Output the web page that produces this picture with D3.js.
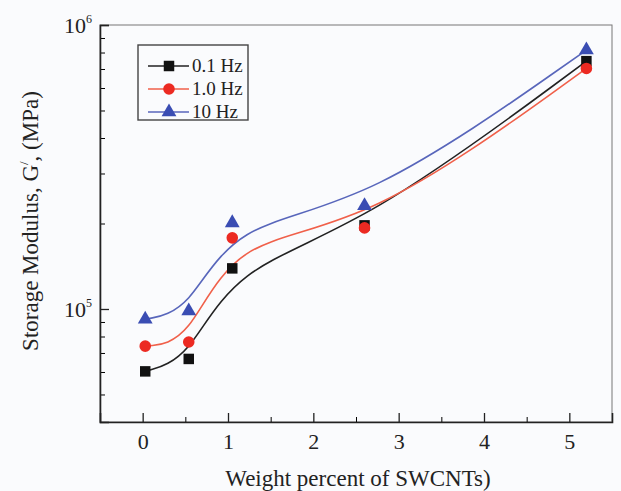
<!DOCTYPE html>
<html lang="en">
<head>
<meta charset="utf-8">
<title>Storage Modulus</title>
<script src="https://cdn.jsdelivr.net/npm/d3@7"></script>
<style>
  body { margin: 0; background: #fafbfd; }
  text { font-family: "Liberation Serif", "Times New Roman", serif; fill: #222; }
</style>
</head>
<body>
<script>
// values
var weight = [0.03, 0.54, 1.05, 2.6, 5.2];
var hz01 = [60300, 66700, 139000, 197000, 746000];
var hz10 = [74000, 76500, 178000, 193000, 703000];
var hz100 = [92000, 98400, 201000, 231000, 816000];
var seriesNames = ["0.1 Hz", "1.0 Hz", "10 Hz"];
var xTicks = [0, 1, 2, 3, 4, 5];

var w = 621, h = 491;
var pLeft = 100, pRight = 612, pTop = 25, pBottom = 422;

var svg = d3.select("body").append("svg")
    .attr("width", w)
    .attr("height", h);

var x = d3.scaleLinear().domain([-0.5, 5.5]).range([pLeft, pRight]);
var y = d3.scaleLog().domain([4e4, 1e6]).range([pBottom, pTop]);

// frame
svg.append("rect")
    .attr("x", pLeft).attr("y", pTop)
    .attr("width", pRight - pLeft).attr("height", pBottom - pTop)
    .attr("fill", "none")
    .attr("stroke", "#777")
    .attr("stroke-width", 1);

// x axis, ticks inward
var xMinor = [0.5, 1.5, 2.5, 3.5, 4.5];
svg.append("g")
    .attr("transform", "translate(0," + pBottom + ")")
    .call(d3.axisBottom(x).tickValues(xMinor).tickSize(-5).tickFormat(""))
    .call(function(g) { g.select(".domain").remove(); });
var gx = svg.append("g")
    .attr("transform", "translate(0," + pBottom + ")")
    .call(d3.axisBottom(x).tickValues(xTicks).tickSize(-9).tickPadding(11).tickFormat(d3.format("d")));
gx.select(".domain").attr("stroke", "#222").attr("stroke-width", 1.6);
gx.selectAll("line").attr("stroke", "#222").attr("stroke-width", 1.3);
gx.selectAll("text").attr("font-size", 22).attr("fill", "#222")
    .attr("font-family", "Liberation Serif, serif");

// y axis, log ticks inward
var yMinor = [5e4, 6e4, 7e4, 8e4, 9e4, 2e5, 3e5, 4e5, 5e5, 6e5, 7e5, 8e5, 9e5];
svg.append("g")
    .attr("transform", "translate(" + pLeft + ",0)")
    .call(d3.axisLeft(y).tickValues(yMinor).tickSize(-5).tickFormat(""))
    .call(function(g) { g.select(".domain").remove(); });
var gy = svg.append("g")
    .attr("transform", "translate(" + pLeft + ",0)")
    .call(d3.axisLeft(y).tickValues([1e5, 1e6]).tickSize(-9).tickFormat(""));
gy.select(".domain").attr("stroke", "#222").attr("stroke-width", 1.6);
gy.selectAll("line").attr("stroke", "#222").attr("stroke-width", 1.3);

[1e5, 1e6].forEach(function(v) {
    var t = svg.append("text")
        .attr("x", pLeft - 8)
        .attr("y", y(v) + 8)
        .attr("text-anchor", "end")
        .attr("font-size", 22);
    t.append("tspan").text("10");
    t.append("tspan").attr("font-size", 12).attr("dy", -10).text(Math.round(Math.log10(v)));
});

// axis titles
svg.append("text")
    .attr("x", 358).attr("y", 486)
    .attr("text-anchor", "middle")
    .attr("font-size", 23)
    .text("Weight percent of SWCNTs)");

var yt = svg.append("text")
    .attr("transform", "translate(38,221) rotate(-90)")
    .attr("text-anchor", "middle")
    .attr("font-size", 23);
yt.append("tspan").text("Storage Modulus, G");
yt.append("tspan").attr("font-size", 13).attr("dy", -10).text("/");
yt.append("tspan").attr("dy", 10).text(", (MPa)");

// series
var series = [
    { name: seriesNames[0], values: hz01, color: "#111", line: "#222", shape: d3.symbolSquare, size: 110 },
    { name: seriesNames[1], values: hz10, color: "#ec2a22", line: "#f0604a", shape: d3.symbolCircle, size: 105 },
    { name: seriesNames[2], values: hz100, color: "#3a4db3", line: "#5866bb", shape: d3.symbolTriangle, size: 95 }
];

var line = d3.line()
    .x(function(d) { return x(d[0]); })
    .y(function(d) { return y(d[1]); })
    .curve(d3.curveBasis);

series.forEach(function(s) {
    var pts = weight.map(function(wt, i) { return [wt, s.values[i]]; });
    svg.append("path")
        .datum(pts)
        .attr("d", line)
        .attr("fill", "none")
        .attr("stroke", s.line)
        .attr("stroke-width", 1.6);
});

series.forEach(function(s) {
    svg.selectAll(null)
        .data(weight.map(function(wt, i) { return [wt, s.values[i]]; }))
        .enter()
        .append("path")
        .attr("d", d3.symbol().type(s.shape).size(s.size))
        .attr("transform", function(d) { return "translate(" + x(d[0]) + "," + y(d[1]) + ")"; })
        .attr("fill", s.color);
});

// legend
var lg = svg.append("g");
lg.append("rect")
    .attr("x", 138).attr("y", 45)
    .attr("width", 110).attr("height", 75)
    .attr("fill", "none")
    .attr("stroke", "#444")
    .attr("stroke-width", 1.4);
series.forEach(function(s, i) {
    var ly = 66 + i * 23;
    lg.append("line")
        .attr("x1", 148).attr("x2", 189)
        .attr("y1", ly).attr("y2", ly)
        .attr("stroke", s.line).attr("stroke-width", 1.6);
    lg.append("path")
        .attr("d", d3.symbol().type(s.shape).size(s.size))
        .attr("transform", "translate(169," + ly + ")")
        .attr("fill", s.color);
    lg.append("text")
        .attr("x", 192).attr("y", ly + 6)
        .attr("font-size", 19)
        .text(s.name);
});
</script>
</body>
</html>
